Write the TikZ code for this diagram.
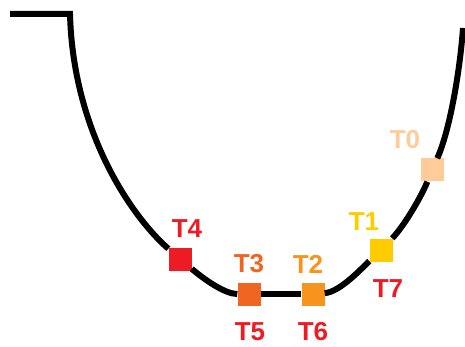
\documentclass[tikz,border=0pt]{standalone}
\usepackage{fontspec}
\setmainfont{Liberation Sans}
\definecolor{cT0}{RGB}{255,204,153}
\definecolor{cT1}{RGB}{255,204,0}
\definecolor{cT2}{RGB}{247,148,29}
\definecolor{cT3}{RGB}{241,101,34}
\definecolor{cT4}{RGB}{237,28,36}
\tikzset{
  tsq/.style={fill=#1,minimum size=23pt,inner sep=0pt},
  tlab/.style={text=#1,font=\fontsize{26}{26}\selectfont\bfseries,inner sep=0pt},
  track/.style={line width=6pt,black}
}

\begin{document}
\begin{tikzpicture}[x=1pt,y=-1pt]
\useasboundingbox (0,0) rectangle (465,347);
% squares on the track
\node[tsq=cT0] (t0) at (432,170) {};
\node[tsq=cT1] (t1) at (381,250) {};
\node[tsq=cT2] (t2) at (313,294) {};
\node[tsq=cT3] (t3) at (249,294) {};
\node[tsq=cT4] (t4) at (180,259) {};
% labels
\node[tlab=cT0] (l0) at (405,140) {T0};
\node[tlab=cT1] (l1) at (364,222) {T1};
\node[tlab=cT2] (l2) at (308,264) {T2};
\node[tlab=cT3] (l3) at (249,264) {T3};
\node[tlab=cT4] (l4) at (187,229) {T4};
\node[tlab=cT4] (l5) at (250,332) {T5};
\node[tlab=cT4] (l6) at (313,332) {T6};
\node[tlab=cT4] (l7) at (388,289) {T7};
% track
\coordinate (a) at (10,14);
\coordinate (b) at (70,14);
\coordinate (e) at (463,28);
\draw[track] (a) -- (b) .. controls (73,130) and (130,215) .. (t4);
\draw[track] (t4) .. controls (205,280) and (225,294) .. (t3);
\draw[track] (t3) -- (t2);
\draw[track] (t2) .. controls (340,292) and (362,268) .. (t1);
\draw[track] (t1) .. controls (405,225) and (422,195) .. (t0);
\draw[track] (t0) .. controls (450,130) and (460,70) .. (e);
\end{tikzpicture}
\end{document}
